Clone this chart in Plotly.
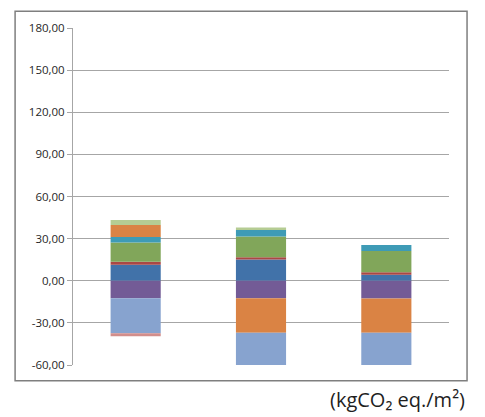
import plotly.graph_objects as go

categories = ["A", "B", "C"]

s_blue = [11.4, 15.1, 4.2]
s_red = [2.1, 1.6, 1.8]
s_green = [13.7, 14.9, 15.1]
s_purple = [-12.4, -12.4, -12.6]
s_teal = [3.9, 4.5, 4.4]
s_orange = [8.6, -24.6, -24.4]
s_lightblue = [-24.9, -24.0, -24.0]
s_lightgreen = [3.5, 1.8, 0.0]
s_pink = [-2.3, 0.0, 0.0]

tick_vals = [-60, -30, 0, 30, 60, 90, 120, 150, 180]
tick_text = ["-60,00", "-30,00", "0,00", "30,00", "60,00", "90,00", "120,00", "150,00", "180,00"]

series = [
    (s_blue, "#4172A9"),
    (s_red, "#AA4744"),
    (s_green, "#81A65A"),
    (s_purple, "#735B96"),
    (s_teal, "#3E9BB6"),
    (s_orange, "#DA8344"),
    (s_lightblue, "#87A3CF"),
    (s_lightgreen, "#B5CC93"),
    (s_pink, "#D28E8C"),
]

fig = go.Figure()
for vals, col in series:
    fig.add_trace(go.Bar(x=categories, y=vals, marker=dict(color=col, line=dict(width=0)),
                         showlegend=False))

fig.update_layout(
    width=477, height=409,
    margin=dict(l=65, r=36, t=14, b=52),
    barmode="relative",
    bargap=0.6,
    plot_bgcolor="white",
    paper_bgcolor="white",
    font=dict(family="Open Sans", size=11.5, color="#1F1F1F"),
    xaxis=dict(showticklabels=False, showgrid=False, zeroline=False, showline=False, ticks=""),
    yaxis=dict(range=[-60, 180], tickvals=tick_vals, ticktext=tick_text,
               showgrid=True, gridcolor="#A6A6A6", gridwidth=1,
               zeroline=False, showline=True, linecolor="#A6A6A6", linewidth=1,
               ticks="outside", ticklen=5, tickcolor="#A6A6A6"),
    shapes=[dict(type="rect", xref="paper", yref="paper",
                 x0=-0.154, x1=1.048, y0=-0.0466, y1=1.0496,
                 line=dict(color="#7F7F7F", width=1.5), fillcolor="rgba(0,0,0,0)")],
    annotations=[dict(text="(kgCO₂ eq./m²)", xref="paper", yref="paper",
                      x=1.048, y=-0.055, xanchor="right", yanchor="top", showarrow=False,
                      font=dict(family="Open Sans", size=20, color="#1F1F1F"))],
)

fig.write_html("out.html")
